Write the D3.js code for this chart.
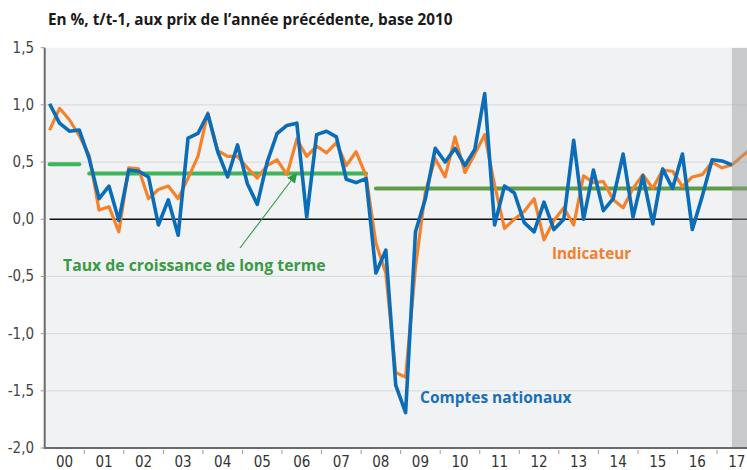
<!DOCTYPE html>
<html>
<head>
<meta charset="utf-8">
<script src="https://cdn.jsdelivr.net/npm/d3@7"></script>
<style>
	body { margin: 0; background: #ffffff; }
	svg { display: block; }
</style>
</head>
<body>
<div id="chart"></div>
<script>
// Croissance trimestrielle du PIB, 2000T1 -> 2017
var startYear = 2000;
var yearLabels = ["00","01","02","03","04","05","06","07","08","09","10","11","12","13","14","15","16","17"];
var yTicks = [1.5, 1.0, 0.5, 0.0, -0.5, -1.0, -1.5, -2.0];

// Comptes nationaux (2000T1 .. 2017T2)
var comptes = [
	1.01, 0.84, 0.77, 0.78, 0.53, 0.18, 0.29, -0.01,
	0.43, 0.42, 0.37, -0.05, 0.17, -0.14, 0.71, 0.75,
	0.92, 0.59, 0.37, 0.65, 0.31, 0.13, 0.50, 0.75,
	0.82, 0.84, 0.02, 0.74, 0.77, 0.72, 0.35, 0.32,
	0.355, -0.47, -0.27, -1.45, -1.69, -0.11, 0.18, 0.62,
	0.50, 0.62, 0.47, 0.61, 1.10, -0.05, 0.29, 0.23,
	-0.03, -0.11, 0.15, -0.09, 0.00, 0.69, 0.00, 0.43,
	0.075, 0.18, 0.57, 0.02, 0.38, -0.04, 0.44, 0.27,
	0.57, -0.09, 0.20, 0.52, 0.51, 0.475
];

// Indicateur (2000T1 .. 2017T4)
var indicateur = [
	0.78, 0.97, 0.87, 0.73, 0.56, 0.08, 0.11, -0.11,
	0.45, 0.44, 0.18, 0.26, 0.29, 0.18, 0.36, 0.55,
	0.93, 0.60, 0.55, 0.55, 0.45, 0.36, 0.47, 0.52,
	0.39, 0.70, 0.55, 0.64, 0.58, 0.67, 0.47, 0.59,
	0.38, -0.21, -0.47, -1.34, -1.38, -0.42, 0.24, 0.53,
	0.37, 0.72, 0.41, 0.57, 0.74, 0.30, -0.08, 0.00,
	0.07, 0.18, -0.18, -0.01, 0.10, -0.05, 0.38, 0.32,
	0.33, 0.17, 0.10, 0.27, 0.39, 0.27, 0.43, 0.42,
	0.285, 0.37, 0.39, 0.50, 0.45, 0.475, 0.55, 0.62
];

// Taux de croissance de long terme : [premier trimestre, dernier trimestre, valeur]
var longTermStart = [0, 4, 33];
var longTermEnd = [3, 32, 71];
var longTermValue = [0.48, 0.40, 0.27];
var longTermColor = ["#3db558", "#3db558", "#5f9b45"];

var width = 747;
var height = 470;
var left = 44.7;
var yearW = 39.55;
var labelFont = "'Open Sans', sans-serif";

var svg = d3.select("#chart")
	.append("svg")
	.attr("width", width)
	.attr("height", height);

var x = d3.scaleLinear()
	.domain([startYear, startYear + 18])
	.range([left, left + 18 * yearW]);

var y = d3.scaleLinear()
	.domain([-2, 1.5])
	.range([448, 47.7]);

function qx(i) { return x(startYear + (i + 0.5) / 4); }

svg.append("defs").append("clipPath")
	.attr("id", "plot-clip")
	.append("rect")
	.attr("x", left)
	.attr("y", y(1.5))
	.attr("width", width - left)
	.attr("height", y(-2) - y(1.5));

svg.append("marker")
	.attr("id", "arrow")
	.attr("viewBox", "0 0 10 10")
	.attr("refX", 9)
	.attr("refY", 5)
	.attr("markerWidth", 10)
	.attr("markerHeight", 10)
	.attr("orient", "auto")
	.attr("markerUnits", "userSpaceOnUse")
	.append("path")
	.attr("d", "M0,0L10,5L0,10z")
	.attr("fill", "#2f9a45");

// fond
svg.append("rect")
	.attr("x", left)
	.attr("y", y(1.5))
	.attr("width", width - left)
	.attr("height", y(-2) - y(1.5))
	.attr("fill", "#f1f2f4");

var plot = svg.append("g").attr("clip-path", "url(#plot-clip)");

// grille
plot.selectAll("line.grid")
	.data(yTicks.filter(function(d) { return d != 0 && d != 1.5 && d != -2; }))
	.enter()
	.append("line")
	.attr("class", "grid")
	.attr("x1", left)
	.attr("x2", width)
	.attr("y1", function(d) { return y(d); })
	.attr("y2", function(d) { return y(d); })
	.attr("stroke", "#dcdde0")
	.attr("stroke-width", 1.2);

plot.append("line")
	.attr("x1", qx(0))
	.attr("x2", width)
	.attr("y1", y(0))
	.attr("y2", y(0))
	.attr("stroke", "#111")
	.attr("stroke-width", 1.5);

// long terme
plot.selectAll("line.lt")
	.data(longTermValue)
	.enter()
	.append("line")
	.attr("class", "lt")
	.attr("x1", function(d, i) { return qx(longTermStart[i]); })
	.attr("x2", function(d, i) { return qx(longTermEnd[i]); })
	.attr("y1", function(d) { return y(d); })
	.attr("y2", function(d) { return y(d); })
	.attr("stroke", function(d, i) { return longTermColor[i]; })
	.attr("stroke-width", 4)
	.attr("stroke-linecap", "round");

var line = d3.line()
	.x(function(d, i) { return qx(i); })
	.y(function(d) { return y(d); });

plot.append("path")
	.datum(indicateur)
	.attr("d", line)
	.attr("fill", "none")
	.attr("stroke", "#f5822a")
	.attr("stroke-width", 3.2)
	.attr("stroke-linejoin", "round");

plot.append("path")
	.datum(comptes)
	.attr("d", line)
	.attr("fill", "none")
	.attr("stroke", "#0b6db7")
	.attr("stroke-width", 3.6)
	.attr("stroke-linejoin", "round");

// zone de prévision
plot.append("rect")
	.attr("x", qx(comptes.length - 1))
	.attr("y", y(1.5))
	.attr("width", width - qx(comptes.length - 1))
	.attr("height", y(-2) - y(1.5))
	.attr("fill", "#9a9a9a")
	.attr("opacity", 0.45);

// axes
svg.append("line")
	.attr("x1", left)
	.attr("x2", left)
	.attr("y1", y(1.5))
	.attr("y2", y(-2) + 1)
	.attr("stroke", "#6b6b6b")
	.attr("stroke-width", 2);

svg.append("line")
	.attr("x1", left - 1)
	.attr("x2", width)
	.attr("y1", y(-2))
	.attr("y2", y(-2))
	.attr("stroke", "#6b6b6b")
	.attr("stroke-width", 2);

svg.selectAll("line.ytick")
	.data(yTicks)
	.enter()
	.append("line")
	.attr("class", "ytick")
	.attr("x1", left - 4)
	.attr("x2", left)
	.attr("y1", function(d) { return y(d); })
	.attr("y2", function(d) { return y(d); })
	.attr("stroke", "#9a9a9a")
	.attr("stroke-width", 1);

svg.selectAll("text.ylab")
	.data(yTicks)
	.enter()
	.append("text")
	.attr("class", "ylab")
	.attr("x", 34)
	.attr("y", function(d) { return y(d) + 5; })
	.attr("text-anchor", "end")
	.attr("font-family", "'Liberation Sans Narrow', 'DejaVu Sans Condensed', sans-serif")
	.attr("font-size", 15)
	.attr("fill", "#444")
	.text(function(d) { return d3.format(".1f")(d).replace(".", ",").replace("−", "-"); });

svg.selectAll("line.xtick")
	.data(yearLabels.slice(1))
	.enter()
	.append("line")
	.attr("class", "xtick")
	.attr("x1", function(d, i) { return x(startYear + i + 1); })
	.attr("x2", function(d, i) { return x(startYear + i + 1); })
	.attr("y1", 450)
	.attr("y2", 454)
	.attr("stroke", "#9a9a9a")
	.attr("stroke-width", 1);

svg.selectAll("text.xlab")
	.data(yearLabels)
	.enter()
	.append("text")
	.attr("class", "xlab")
	.attr("x", function(d, i) { return x(startYear + i + 0.5); })
	.attr("y", 467)
	.attr("text-anchor", "middle")
	.attr("font-family", "'Liberation Sans Narrow', 'DejaVu Sans Condensed', sans-serif")
	.attr("font-size", 15)
	.attr("fill", "#333")
	.text(function(d) { return d; });

// titre et annotations
svg.append("text")
	.attr("x", 48)
	.attr("y", 25)
	.attr("font-family", labelFont)
	.attr("font-weight", "bold")
	.attr("font-size", 15.3)
	.attr("fill", "#1a1a1a")
	.text("En %, t/t-1, aux prix de l\u2019ann\u00e9e pr\u00e9c\u00e9dente, base 2010");

svg.append("text")
	.attr("x", 552)
	.attr("y", 259)
	.attr("font-family", labelFont)
	.attr("font-weight", "bold")
	.attr("font-size", 15.3)
	.attr("fill", "#f0802e")
	.text("Indicateur");

svg.append("text")
	.attr("x", 420)
	.attr("y", 403)
	.attr("font-family", labelFont)
	.attr("font-weight", "bold")
	.attr("font-size", 15.5)
	.attr("fill", "#1a6fb6")
	.text("Comptes nationaux");

svg.append("text")
	.attr("x", 63)
	.attr("y", 271)
	.attr("font-family", labelFont)
	.attr("font-weight", "bold")
	.attr("font-size", 15.8)
	.attr("fill", "#3a9a45")
	.text("Taux de croissance de long terme");

svg.append("line")
	.attr("x1", 240)
	.attr("y1", 248)
	.attr("x2", 296.5)
	.attr("y2", 173.5)
	.attr("stroke", "#2f9a45")
	.attr("stroke-width", 1.1)
	.attr("marker-end", "url(#arrow)");
</script>
</body>
</html>
